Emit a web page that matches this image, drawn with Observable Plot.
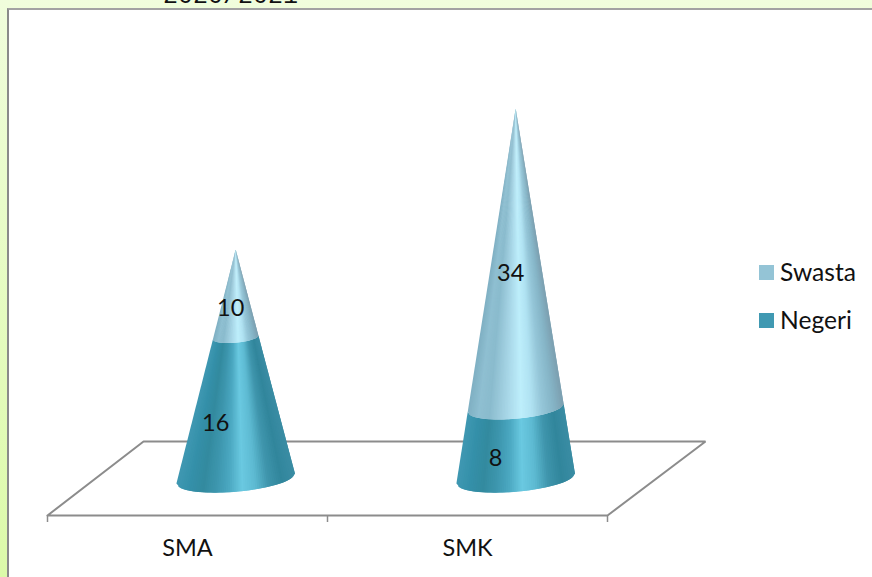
<!DOCTYPE html>
<html>
<head>
<meta charset="utf-8">
<script src="https://cdn.jsdelivr.net/npm/d3@7"></script>
<script src="https://cdn.jsdelivr.net/npm/@observablehq/plot@0.6"></script>
<style>
  html, body { margin: 0; padding: 0; }
  body { width: 872px; height: 577px; position: relative; overflow: hidden;
         background: linear-gradient(#f0fddc, #dcfaa9); font-family: Lato, sans-serif; }
  #panel { position: absolute; left: 7px; top: 8px; right: 0; bottom: 0; background: #fff;
           border-left: 2px solid #8a8a8a; border-top: 2px solid #a2a2a2; }
  #title { position: absolute; left: 163px; top: -18px; font: 25px "Liberation Mono", monospace;
           color: #111; line-height: 30px; white-space: nowrap; }
  #chart { position: absolute; left: 0; top: 0; }
  #chart svg { background: transparent; display: block; }
  .legend { position: absolute; left: 759px; font-size: 24.6px; line-height: 28px; color: #111; white-space: nowrap; }
  .legend i { position: absolute; left: 0; top: 7px; width: 15px; height: 15px; }
  .legend span { position: absolute; left: 21px; top: 0; }
</style>
</head>
<body>
<div id="panel"></div>
<div id="chart"></div>
<div id="title">2020/2021</div>
<div class="legend" style="top:258px"><i style="background:#94c4d6"></i><span>Swasta</span></div>
<div class="legend" style="top:306px"><i style="background:#4099b2"></i><span>Negeri</span></div>
<script>
const categories = ["SMA", "SMK"];
const negeri = [16, 8];
const swasta = [10, 34];
const tickPositions = [0, 1, 2];

// Cylinder-shading palettes, sampled left to right across a cone
const negeriShade = ["#3f98b2", "#3490a9", "#338a9f", "#3d96ad", "#4ba8c1", "#6ac9e1", "#5dbad2", "#3f95ac", "#31869c", "#3a8ca4"];
const swastaShade = ["#7fb0c3", "#8fbfd1", "#8abbcd", "#9ccbdc", "#addcec", "#bdeefb", "#b0e2f2", "#95c6d8", "#86b6c8", "#7c9fb0"];

// Drawing of the pseudo-3D scene, in data units
const depthLeft = 0.343, depthRight = 0.35, depthY = 4.2;   // floor depth
const coneShift = 0.172;                                    // cones stand mid-depth
const radiusX = 0.2116, tiltY = 0.57, bulgeY = 1.5;         // base ellipse of a cone
const strips = 60;

const shade = c => d3.scaleLinear().domain(d3.range(c.length).map(i => i / (c.length - 1))).range(c).interpolate(d3.interpolateRgb);
const negeriColor = shade(negeriShade), swastaColor = shade(swastaShade);

function point(cx, total, v, f) {
  const r = 1 - v / total;
  const cos = 2 * f - 1, sin = Math.sqrt(Math.max(0, 1 - cos * cos));
  return {x: cx + r * radiusX * cos, y: v + r * (tiltY * cos - bulgeY * sin)};
}

const quads = [];
categories.forEach((c, i) => {
  const cx = i + 0.5 + coneShift, total = negeri[i] + swasta[i];
  const parts = [[0, negeri[i], negeriColor], [negeri[i], total, swastaColor]];
  parts.forEach(([v0, v1, col], p) => {
    for (let s = 0; s < strips; s++) {
      const f0 = s / strips, f1 = (s + 1) / strips;
      const color = col((f0 + f1) / 2);
      const id = `${c}-${p}-${s}`;
      // each strip reaches slightly under its right neighbour so no seam shows
      const f2 = Math.min(1, f1 + 1 / strips);
      [point(cx, total, v0, f0), point(cx, total, v0, f2), point(cx, total, v1, f2), point(cx, total, v1, f0)]
        .forEach(q => quads.push({...q, id, color}));
    }
  });
});

const floor = [
  {x: 0, y: -depthY}, {x: 2, y: -depthY}, {x: 2 + depthRight, y: depthY}, {x: depthLeft, y: depthY}, {x: 0, y: -depthY}
];

const labelsOf = (values, base) => values.map((v, i) => ({
  x: i + 0.5 + coneShift, y: base[i] + v / 2, text: String(v)
}));

const chart = Plot.plot({
  width: 872, height: 577,
  marginLeft: 47, marginRight: 265, marginTop: 20, marginBottom: 62,
  x: {domain: [0, 2], label: null},
  y: {domain: [-depthY, 52], axis: null},
  color: {type: "identity"},
  style: {background: "transparent", fontFamily: "Lato, sans-serif"},
  marks: [
    Plot.line(floor, {x: "x", y: "y", stroke: "#8c8c8c", strokeWidth: 2, strokeLinejoin: "miter"}),
    Plot.axisX({ticks: tickPositions, tickSize: 7, tickFormat: () => "", stroke: "#8c8c8c", strokeWidth: 1.5, label: null}),
    Plot.axisX({ticks: [0.5, 1.5], tickSize: 0, tickPadding: 24, fontSize: 23.5, fill: "#111",
      tickFormat: d => categories[d - 0.5], label: null}),
    Plot.line(quads, {x: "x", y: "y", z: "id", fill: "color", stroke: "none", curve: "linear-closed"}),
    Plot.text(labelsOf(negeri, [0, 0]), {x: "x", y: "y", text: "text", dx: -20, dy: 15, fontSize: 23.5, fill: "#111"}),
    Plot.text(labelsOf(swasta, negeri), {x: "x", y: "y", text: "text", dx: -5, dy: 15, fontSize: 23.5, fill: "#111"})
  ]
});
document.getElementById("chart").append(chart);
</script>
</body>
</html>
